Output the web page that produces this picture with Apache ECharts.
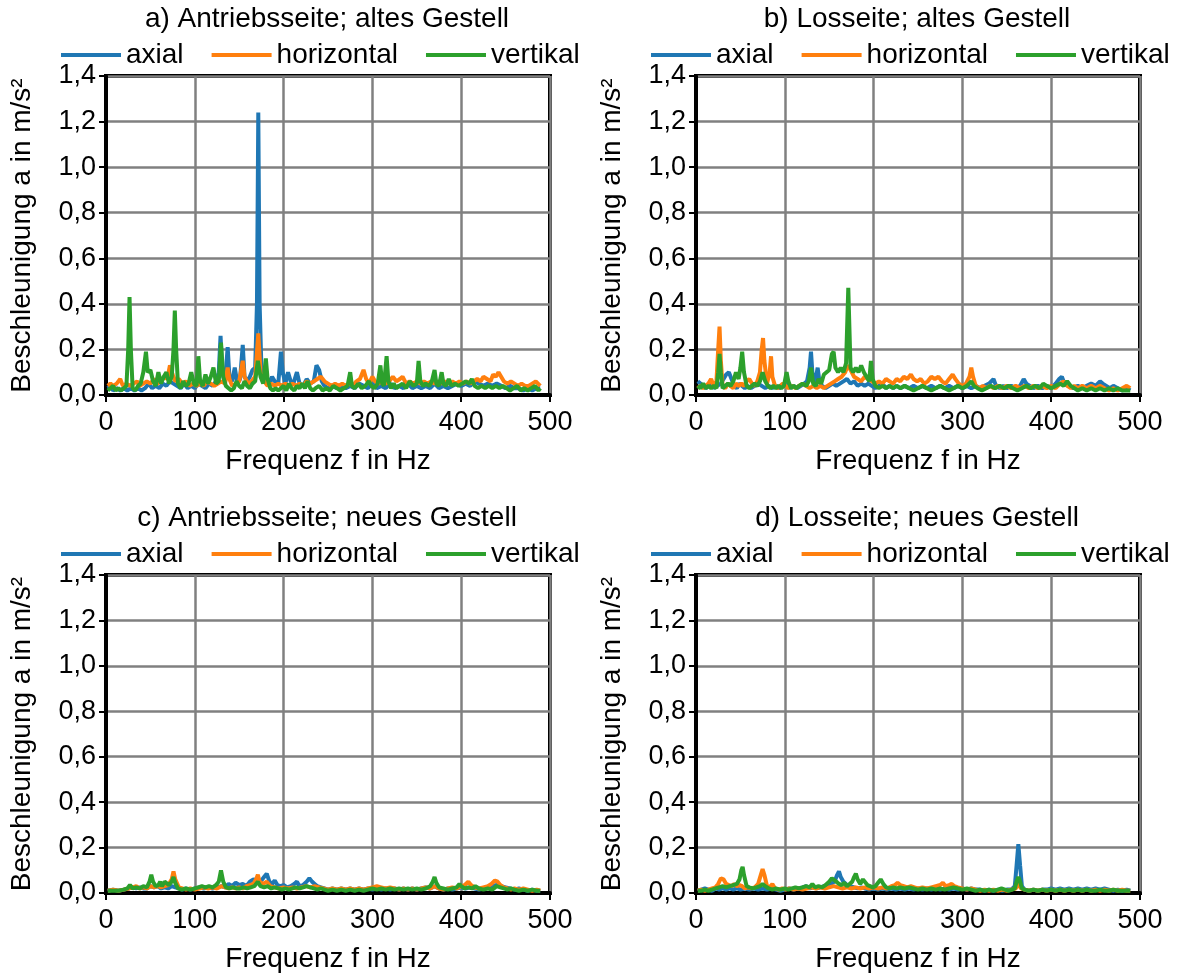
<!DOCTYPE html>
<html><head><meta charset="utf-8">
<script src="https://cdn.jsdelivr.net/npm/echarts@6/dist/echarts.min.js"></script>
<style>html,body{margin:0;padding:0;background:#fff}#c{width:1190px;height:974px}</style>
</head><body><div id="c"></div>
<script>
const panelTitles = ['a) Antriebsseite; altes Gestell','b) Losseite; altes Gestell','c) Antriebsseite; neues Gestell','d) Losseite; neues Gestell'];
const seriesNames = ['axial','horizontal','vertikal'];
const xTicks = [0,100,200,300,400,500];
const yTicks = [0,0.2,0.4,0.6,0.8,1.0,1.2,1.4];
const xName = 'Frequenz f in Hz';
const yName = 'Beschleunigung a in m/s²';

// a) Antriebsseite; altes Gestell  [Frequenz Hz, Beschleunigung m/s²]
const aAxial = [[2,0.03],[5,0.04],[8,0.02],[12,0.03],[16,0.02],[20,0.03],[24,0.02],[28,0.03],[32,0.02],[36,0.03],[40,0.02],[44,0.03],[48,0.05],[52,0.03],[56,0.04],[60,0.03],[64,0.05],[68,0.04],[72,0.06],[76,0.05],[80,0.04],[84,0.03],[88,0.05],[92,0.03],[96,0.04],[100,0.03],[104,0.05],[108,0.04],[112,0.03],[116,0.05],[120,0.04],[124,0.06],[127,0.1],[129,0.26],[131,0.1],[134,0.05],[137,0.21],[139,0.08],[142,0.06],[145,0.12],[148,0.05],[151,0.07],[154,0.22],[156,0.08],[159,0.06],[162,0.08],[165,0.11],[168,0.12],[170,0.4],[171.5,1.24],[173,0.4],[175,0.12],[178,0.06],[181,0.08],[184,0.05],[187,0.08],[190,0.06],[194,0.05],[197,0.19],[199,0.1],[202,0.05],[205,0.1],[208,0.06],[211,0.05],[215,0.1],[218,0.05],[222,0.04],[226,0.07],[230,0.05],[234,0.06],[237,0.13],[240,0.11],[243,0.06],[246,0.04],[250,0.03],[255,0.04],[260,0.03],[265,0.04],[270,0.03],[275,0.04],[280,0.03],[285,0.05],[290,0.04],[295,0.03],[300,0.05],[305,0.03],[310,0.04],[315,0.03],[320,0.05],[325,0.03],[330,0.04],[335,0.03],[340,0.05],[345,0.03],[350,0.04],[355,0.03],[360,0.04],[365,0.03],[370,0.05],[375,0.03],[380,0.04],[385,0.03],[390,0.04],[395,0.05],[400,0.04],[405,0.05],[410,0.04],[415,0.06],[420,0.05],[425,0.04],[430,0.05],[435,0.04],[440,0.05],[445,0.04],[450,0.03],[455,0.04],[460,0.03],[465,0.03],[470,0.02],[475,0.03],[480,0.02],[485,0.03],[489,0.03]];
const aHoriz = [[2,0.04],[5,0.05],[8,0.04],[12,0.05],[16,0.07],[19,0.04],[23,0.05],[27,0.04],[31,0.05],[35,0.06],[38,0.04],[42,0.05],[46,0.06],[50,0.05],[54,0.07],[58,0.05],[62,0.06],[66,0.08],[69,0.07],[72,0.13],[75,0.09],[78,0.06],[82,0.07],[86,0.05],[90,0.06],[94,0.04],[98,0.05],[102,0.04],[106,0.05],[110,0.04],[114,0.06],[118,0.05],[122,0.04],[126,0.05],[130,0.06],[134,0.05],[137,0.12],[139,0.07],[142,0.04],[146,0.05],[150,0.06],[154,0.15],[156,0.08],[160,0.05],[164,0.06],[168,0.08],[171.5,0.27],[174,0.1],[178,0.06],[182,0.04],[186,0.05],[190,0.04],[194,0.05],[198,0.04],[202,0.05],[206,0.04],[210,0.05],[214,0.04],[218,0.05],[222,0.04],[226,0.06],[230,0.05],[234,0.06],[238,0.07],[242,0.08],[246,0.06],[250,0.05],[254,0.04],[258,0.05],[262,0.04],[266,0.05],[270,0.04],[274,0.05],[278,0.04],[282,0.06],[286,0.07],[290,0.11],[293,0.07],[296,0.05],[300,0.08],[303,0.06],[307,0.05],[311,0.06],[315,0.05],[319,0.06],[323,0.08],[327,0.06],[331,0.07],[334,0.08],[338,0.05],[342,0.06],[346,0.05],[350,0.06],[354,0.05],[358,0.06],[362,0.05],[366,0.06],[370,0.05],[374,0.06],[378,0.05],[382,0.06],[386,0.05],[390,0.06],[394,0.05],[398,0.06],[402,0.05],[406,0.06],[410,0.05],[414,0.06],[418,0.07],[422,0.06],[425,0.08],[429,0.07],[433,0.06],[436,0.09],[439,0.08],[442,0.1],[445,0.08],[448,0.06],[452,0.05],[456,0.06],[460,0.05],[464,0.04],[468,0.05],[472,0.04],[476,0.04],[480,0.05],[484,0.06],[489,0.04]];
const aVert = [[2,0.02],[5,0.03],[8,0.04],[11,0.02],[14,0.03],[17,0.02],[20,0.03],[23,0.04],[25,0.2],[26.5,0.43],[28,0.2],[30,0.03],[33,0.02],[36,0.04],[39,0.05],[42,0.1],[45,0.19],[47,0.1],[50,0.11],[53,0.06],[56,0.04],[59,0.1],[62,0.05],[65,0.08],[68,0.1],[71,0.05],[74,0.08],[76,0.2],[77.5,0.37],[79,0.2],[81,0.05],[84,0.03],[87,0.06],[90,0.04],[93,0.05],[96,0.1],[99,0.05],[102,0.04],[104,0.17],[106,0.06],[109,0.04],[112,0.09],[115,0.05],[118,0.08],[121,0.12],[124,0.05],[127,0.06],[129.5,0.23],[132,0.08],[135,0.04],[138,0.03],[141,0.02],[144,0.03],[147,0.06],[150,0.04],[153,0.03],[156,0.06],[159,0.04],[162,0.03],[165,0.05],[168,0.06],[171,0.15],[174,0.08],[177,0.05],[180,0.16],[182,0.07],[185,0.03],[188,0.02],[191,0.03],[194,0.02],[197,0.03],[200,0.04],[203,0.02],[206,0.05],[209,0.03],[212,0.02],[215,0.04],[218,0.03],[221,0.05],[224,0.03],[227,0.06],[230,0.03],[233,0.02],[236,0.03],[240,0.04],[244,0.02],[248,0.03],[252,0.02],[256,0.04],[260,0.03],[264,0.02],[268,0.03],[272,0.04],[275,0.1],[277,0.04],[280,0.03],[284,0.05],[288,0.03],[292,0.04],[296,0.06],[299,0.04],[302,0.03],[306,0.05],[309,0.13],[311,0.05],[313,0.04],[316,0.17],[318,0.06],[321,0.03],[324,0.05],[327,0.03],[330,0.04],[334,0.05],[338,0.03],[342,0.06],[346,0.04],[350,0.05],[352,0.15],[354,0.06],[357,0.04],[360,0.05],[364,0.04],[367,0.06],[370,0.11],[372,0.05],[375,0.04],[378,0.1],[380,0.05],[383,0.04],[386,0.07],[389,0.04],[393,0.05],[397,0.04],[401,0.05],[405,0.06],[409,0.05],[412,0.07],[415,0.04],[419,0.03],[423,0.04],[427,0.03],[431,0.04],[435,0.03],[439,0.04],[443,0.03],[447,0.04],[451,0.03],[455,0.02],[459,0.03],[463,0.04],[467,0.02],[471,0.03],[475,0.02],[479,0.03],[483,0.04],[487,0.02],[489,0.03]];

// b) Losseite; altes Gestell
const bAxial = [[2,0.06],[5,0.05],[8,0.04],[11,0.03],[14,0.04],[17,0.05],[20,0.03],[24,0.04],[28,0.05],[31,0.07],[34,0.09],[37,0.1],[40,0.07],[43,0.04],[46,0.03],[49,0.05],[52,0.04],[55,0.03],[58,0.04],[62,0.03],[66,0.04],[70,0.05],[74,0.04],[78,0.03],[82,0.04],[86,0.03],[90,0.04],[94,0.03],[98,0.04],[102,0.05],[106,0.03],[110,0.04],[114,0.03],[118,0.04],[122,0.05],[125,0.06],[128,0.12],[129.5,0.19],[131,0.1],[134,0.05],[137,0.12],[139,0.06],[142,0.04],[146,0.03],[150,0.04],[154,0.05],[158,0.04],[162,0.05],[166,0.06],[170,0.07],[174,0.05],[178,0.06],[182,0.04],[186,0.05],[190,0.04],[194,0.05],[198,0.04],[202,0.03],[206,0.04],[210,0.05],[214,0.03],[218,0.04],[222,0.03],[226,0.04],[230,0.03],[235,0.04],[240,0.03],[245,0.04],[250,0.03],[255,0.04],[260,0.03],[265,0.04],[270,0.03],[275,0.04],[280,0.03],[285,0.04],[290,0.03],[295,0.04],[300,0.03],[305,0.04],[310,0.03],[315,0.04],[320,0.03],[325,0.04],[330,0.05],[335,0.07],[338,0.04],[342,0.03],[346,0.04],[350,0.03],[355,0.04],[360,0.03],[365,0.04],[369,0.07],[372,0.05],[376,0.04],[380,0.03],[385,0.04],[390,0.03],[395,0.04],[400,0.03],[405,0.05],[409,0.07],[412,0.08],[415,0.05],[420,0.04],[425,0.03],[430,0.04],[435,0.03],[440,0.04],[445,0.05],[450,0.04],[455,0.06],[458,0.05],[462,0.04],[466,0.03],[470,0.04],[475,0.03],[480,0.02],[485,0.03],[489,0.02]];
const bHoriz = [[2,0.03],[5,0.04],[8,0.03],[11,0.04],[14,0.05],[17,0.07],[20,0.04],[23,0.06],[25,0.2],[26.5,0.3],[28,0.15],[30,0.04],[33,0.03],[36,0.05],[39,0.04],[42,0.03],[45,0.05],[48,0.04],[51,0.05],[54,0.04],[57,0.06],[60,0.07],[63,0.05],[66,0.04],[69,0.06],[72,0.1],[74,0.2],[75.5,0.25],[77,0.15],[80,0.05],[83,0.1],[84.5,0.17],[86,0.08],[89,0.04],[92,0.03],[95,0.04],[98,0.05],[101,0.04],[104,0.03],[108,0.04],[112,0.03],[116,0.04],[120,0.05],[124,0.04],[128,0.03],[132,0.04],[136,0.03],[140,0.04],[144,0.03],[148,0.04],[152,0.05],[156,0.06],[160,0.07],[164,0.08],[168,0.1],[171,0.13],[174,0.11],[178,0.08],[182,0.07],[186,0.06],[190,0.08],[194,0.07],[198,0.06],[202,0.05],[206,0.06],[210,0.05],[214,0.07],[218,0.06],[222,0.05],[226,0.07],[230,0.06],[234,0.08],[238,0.07],[242,0.09],[245,0.07],[249,0.06],[253,0.07],[257,0.05],[261,0.06],[265,0.08],[269,0.07],[273,0.08],[277,0.06],[281,0.05],[285,0.07],[289,0.09],[292,0.07],[296,0.05],[300,0.04],[304,0.05],[308,0.08],[310,0.12],[312,0.08],[315,0.04],[319,0.03],[323,0.04],[327,0.03],[331,0.04],[335,0.03],[340,0.04],[345,0.03],[350,0.04],[355,0.03],[360,0.04],[365,0.03],[370,0.04],[375,0.03],[380,0.04],[385,0.03],[390,0.04],[395,0.03],[400,0.04],[405,0.03],[410,0.05],[414,0.06],[418,0.04],[422,0.03],[426,0.04],[430,0.03],[435,0.04],[440,0.03],[445,0.04],[450,0.03],[455,0.04],[460,0.03],[465,0.02],[470,0.03],[475,0.02],[480,0.03],[485,0.04],[489,0.03]];
const bVert = [[2,0.04],[5,0.03],[8,0.05],[11,0.03],[14,0.04],[17,0.03],[20,0.04],[23,0.03],[25,0.1],[26.5,0.18],[28,0.1],[30,0.03],[33,0.04],[36,0.05],[39,0.04],[42,0.06],[45,0.1],[48,0.07],[50,0.12],[52,0.19],[54,0.1],[57,0.04],[60,0.03],[63,0.04],[66,0.05],[69,0.04],[72,0.06],[75,0.1],[78,0.06],[81,0.04],[84,0.03],[87,0.04],[90,0.03],[93,0.04],[96,0.03],[99,0.04],[102,0.1],[104,0.06],[107,0.03],[110,0.04],[113,0.03],[116,0.04],[120,0.05],[124,0.04],[127,0.06],[129.5,0.12],[132,0.05],[135,0.04],[138,0.07],[141,0.05],[144,0.09],[147,0.1],[150,0.11],[153,0.18],[155,0.19],[157,0.12],[160,0.1],[163,0.12],[166,0.1],[169,0.14],[171.5,0.47],[174,0.12],[177,0.1],[180,0.12],[183,0.1],[186,0.13],[189,0.1],[192,0.08],[195,0.06],[197,0.15],[199,0.07],[202,0.04],[206,0.03],[210,0.04],[214,0.03],[218,0.04],[222,0.03],[226,0.04],[230,0.03],[235,0.04],[240,0.03],[245,0.02],[250,0.03],[255,0.04],[260,0.03],[265,0.02],[270,0.03],[275,0.04],[280,0.03],[285,0.02],[290,0.03],[295,0.04],[300,0.03],[305,0.04],[310,0.06],[313,0.04],[317,0.03],[322,0.02],[327,0.03],[332,0.04],[337,0.03],[342,0.04],[347,0.03],[352,0.04],[357,0.03],[362,0.02],[367,0.03],[372,0.04],[377,0.03],[382,0.04],[387,0.03],[391,0.05],[395,0.04],[400,0.03],[405,0.04],[410,0.05],[414,0.04],[418,0.06],[422,0.04],[426,0.03],[430,0.02],[435,0.03],[440,0.02],[445,0.03],[450,0.02],[455,0.03],[460,0.02],[465,0.03],[470,0.02],[475,0.03],[480,0.02],[485,0.02],[489,0.02]];

// c) Antriebsseite; neues Gestell
const cAxial = [[2,0.01],[8,0.015],[14,0.01],[20,0.015],[26,0.02],[30,0.025],[34,0.02],[38,0.025],[42,0.02],[46,0.02],[50,0.03],[54,0.025],[58,0.03],[62,0.02],[66,0.025],[70,0.02],[74,0.03],[78,0.025],[82,0.02],[86,0.015],[90,0.02],[95,0.015],[100,0.02],[105,0.025],[110,0.02],[115,0.025],[120,0.02],[125,0.025],[130,0.03],[134,0.025],[138,0.04],[142,0.03],[146,0.045],[150,0.035],[154,0.04],[158,0.03],[162,0.05],[166,0.06],[170,0.055],[174,0.05],[178,0.07],[181,0.085],[184,0.05],[187,0.04],[190,0.055],[193,0.035],[196,0.03],[200,0.035],[204,0.025],[208,0.03],[212,0.04],[215,0.05],[218,0.03],[222,0.035],[226,0.05],[229,0.065],[232,0.05],[235,0.04],[238,0.03],[242,0.025],[246,0.02],[250,0.015],[255,0.02],[260,0.015],[265,0.02],[270,0.015],[275,0.02],[280,0.015],[285,0.02],[290,0.015],[295,0.02],[300,0.015],[305,0.02],[310,0.015],[315,0.02],[320,0.015],[325,0.02],[330,0.015],[335,0.02],[340,0.015],[345,0.02],[350,0.015],[355,0.02],[360,0.025],[365,0.02],[370,0.03],[375,0.02],[380,0.015],[385,0.02],[390,0.015],[395,0.02],[400,0.025],[405,0.02],[410,0.025],[415,0.02],[420,0.015],[425,0.02],[430,0.025],[435,0.03],[440,0.035],[445,0.03],[450,0.025],[455,0.02],[460,0.015],[465,0.02],[470,0.015],[475,0.01],[480,0.015],[485,0.01],[489,0.01]];
const cHoriz = [[2,0.01],[8,0.015],[14,0.01],[20,0.015],[26,0.02],[30,0.025],[34,0.03],[38,0.02],[42,0.025],[46,0.02],[50,0.03],[54,0.025],[58,0.03],[62,0.025],[66,0.03],[70,0.035],[74,0.06],[76,0.095],[78,0.06],[82,0.025],[86,0.02],[90,0.015],[95,0.02],[100,0.015],[105,0.02],[110,0.025],[115,0.02],[120,0.025],[125,0.02],[130,0.03],[134,0.025],[138,0.02],[142,0.025],[146,0.02],[150,0.025],[154,0.02],[158,0.03],[162,0.035],[166,0.04],[169,0.06],[171,0.08],[173,0.05],[177,0.04],[181,0.05],[185,0.03],[190,0.025],[195,0.02],[200,0.025],[205,0.02],[210,0.025],[215,0.02],[220,0.025],[225,0.03],[230,0.025],[235,0.03],[240,0.025],[245,0.02],[250,0.015],[255,0.02],[260,0.015],[265,0.02],[270,0.015],[275,0.02],[280,0.015],[285,0.02],[290,0.015],[295,0.02],[300,0.025],[305,0.03],[310,0.025],[315,0.02],[320,0.025],[325,0.02],[330,0.015],[335,0.02],[340,0.015],[345,0.02],[350,0.015],[355,0.02],[360,0.025],[365,0.02],[370,0.03],[375,0.02],[380,0.015],[385,0.02],[390,0.025],[395,0.02],[400,0.03],[404,0.035],[408,0.05],[411,0.035],[415,0.025],[420,0.02],[425,0.025],[430,0.03],[434,0.04],[438,0.055],[441,0.05],[444,0.035],[448,0.025],[452,0.02],[456,0.015],[460,0.02],[465,0.015],[470,0.02],[475,0.015],[480,0.01],[485,0.015],[489,0.01]];
const cVert = [[2,0.01],[8,0.01],[14,0.01],[20,0.015],[24,0.02],[27,0.035],[30,0.02],[34,0.025],[38,0.02],[42,0.03],[46,0.025],[49,0.05],[51,0.08],[53,0.05],[56,0.03],[59,0.035],[61,0.05],[63,0.03],[66,0.05],[68,0.045],[71,0.035],[74,0.05],[76,0.07],[78,0.045],[81,0.02],[85,0.015],[90,0.02],[95,0.015],[100,0.02],[104,0.025],[108,0.03],[112,0.025],[116,0.03],[120,0.025],[124,0.035],[127,0.05],[129.5,0.1],[132,0.05],[135,0.025],[139,0.02],[143,0.025],[147,0.02],[151,0.02],[155,0.025],[159,0.02],[163,0.025],[167,0.03],[171,0.05],[174,0.03],[178,0.025],[182,0.03],[186,0.02],[190,0.025],[194,0.02],[198,0.015],[202,0.02],[206,0.015],[210,0.02],[214,0.025],[218,0.02],[222,0.025],[226,0.03],[230,0.025],[234,0.02],[238,0.015],[242,0.02],[246,0.015],[250,0.01],[255,0.015],[260,0.01],[265,0.015],[270,0.01],[275,0.015],[280,0.01],[285,0.015],[290,0.01],[295,0.015],[300,0.02],[305,0.015],[310,0.02],[315,0.015],[320,0.02],[325,0.015],[330,0.02],[335,0.015],[340,0.02],[345,0.015],[350,0.02],[355,0.015],[360,0.02],[365,0.03],[368,0.05],[370,0.07],[372,0.045],[375,0.025],[380,0.02],[385,0.015],[390,0.02],[395,0.025],[398,0.04],[400,0.03],[404,0.02],[408,0.025],[412,0.02],[416,0.03],[420,0.02],[425,0.015],[430,0.02],[435,0.015],[440,0.03],[444,0.025],[448,0.02],[452,0.015],[456,0.02],[460,0.015],[465,0.01],[470,0.015],[475,0.01],[480,0.015],[485,0.01],[489,0.01]];

// d) Losseite; neues Gestell
const dAxial = [[2,0.01],[6,0.015],[10,0.02],[14,0.015],[18,0.01],[22,0.02],[26,0.015],[30,0.02],[34,0.015],[38,0.02],[42,0.015],[46,0.02],[50,0.015],[55,0.02],[60,0.015],[65,0.02],[70,0.015],[75,0.02],[80,0.015],[85,0.02],[90,0.015],[95,0.01],[100,0.015],[105,0.02],[110,0.015],[115,0.02],[120,0.025],[124,0.03],[128,0.02],[132,0.025],[136,0.02],[140,0.025],[144,0.03],[148,0.035],[152,0.04],[156,0.05],[159,0.08],[161,0.095],[163,0.07],[166,0.05],[170,0.035],[174,0.03],[178,0.025],[182,0.02],[186,0.025],[190,0.02],[195,0.015],[200,0.02],[205,0.015],[210,0.02],[215,0.015],[220,0.02],[225,0.015],[230,0.02],[235,0.015],[240,0.02],[245,0.015],[250,0.02],[255,0.015],[260,0.02],[265,0.015],[270,0.02],[275,0.015],[280,0.02],[285,0.015],[290,0.02],[295,0.015],[300,0.02],[305,0.015],[310,0.02],[315,0.015],[320,0.015],[325,0.01],[330,0.015],[335,0.01],[340,0.015],[345,0.01],[350,0.015],[355,0.015],[359,0.03],[361,0.12],[363,0.215],[365,0.12],[367,0.03],[370,0.015],[375,0.01],[380,0.015],[385,0.01],[390,0.015],[395,0.015],[400,0.02],[405,0.015],[410,0.02],[415,0.015],[420,0.02],[425,0.015],[430,0.02],[435,0.015],[440,0.02],[445,0.015],[450,0.02],[455,0.015],[460,0.02],[465,0.015],[470,0.01],[475,0.015],[480,0.01],[485,0.015],[489,0.01]];
const dHoriz = [[2,0.01],[6,0.015],[10,0.01],[14,0.015],[18,0.02],[22,0.025],[25,0.04],[28,0.065],[31,0.06],[34,0.04],[37,0.035],[40,0.03],[43,0.04],[46,0.03],[49,0.035],[52,0.03],[55,0.02],[58,0.025],[62,0.02],[66,0.025],[70,0.04],[73,0.08],[75,0.105],[77,0.08],[80,0.03],[83,0.025],[86,0.04],[89,0.02],[93,0.015],[97,0.02],[101,0.015],[105,0.02],[110,0.015],[115,0.02],[120,0.015],[125,0.02],[130,0.025],[135,0.02],[140,0.025],[145,0.02],[150,0.025],[155,0.03],[160,0.025],[165,0.02],[170,0.025],[175,0.02],[180,0.025],[185,0.02],[190,0.025],[195,0.02],[200,0.025],[205,0.02],[210,0.025],[215,0.02],[220,0.03],[224,0.035],[227,0.045],[230,0.035],[234,0.03],[238,0.025],[242,0.03],[246,0.025],[250,0.02],[255,0.025],[260,0.02],[265,0.025],[270,0.03],[275,0.035],[278,0.045],[281,0.03],[285,0.035],[288,0.04],[291,0.03],[295,0.025],[300,0.02],[305,0.015],[310,0.02],[315,0.015],[320,0.01],[325,0.015],[330,0.01],[335,0.015],[340,0.01],[345,0.015],[350,0.01],[355,0.015],[360,0.02],[363,0.04],[366,0.02],[370,0.015],[375,0.01],[380,0.015],[385,0.01],[390,0.015],[395,0.01],[400,0.015],[405,0.01],[410,0.015],[415,0.01],[420,0.015],[425,0.01],[430,0.015],[435,0.01],[440,0.015],[445,0.01],[450,0.015],[455,0.01],[460,0.015],[465,0.01],[470,0.015],[475,0.01],[480,0.015],[485,0.01],[489,0.01]];
const dVert = [[2,0.01],[6,0.01],[10,0.015],[14,0.01],[18,0.015],[22,0.02],[26,0.025],[30,0.03],[34,0.025],[38,0.03],[42,0.035],[46,0.04],[49,0.06],[51,0.1],[52.5,0.115],[54,0.08],[57,0.03],[60,0.025],[64,0.02],[68,0.025],[72,0.03],[75,0.04],[78,0.03],[82,0.02],[86,0.015],[90,0.02],[95,0.015],[100,0.02],[104,0.015],[108,0.02],[112,0.025],[116,0.02],[120,0.025],[124,0.03],[128,0.025],[131,0.04],[134,0.025],[138,0.03],[142,0.025],[146,0.035],[150,0.05],[153,0.065],[155,0.07],[158,0.05],[161,0.04],[164,0.035],[167,0.045],[170,0.03],[173,0.04],[176,0.05],[178,0.07],[180,0.085],[182,0.06],[185,0.04],[188,0.06],[190,0.055],[193,0.035],[196,0.03],[199,0.025],[202,0.03],[205,0.045],[208,0.06],[211,0.04],[214,0.025],[218,0.02],[222,0.025],[226,0.02],[230,0.025],[235,0.02],[240,0.025],[245,0.02],[250,0.015],[255,0.02],[260,0.015],[265,0.02],[270,0.015],[275,0.02],[280,0.015],[285,0.02],[290,0.025],[295,0.02],[300,0.015],[305,0.02],[310,0.015],[315,0.01],[320,0.015],[325,0.01],[330,0.015],[335,0.01],[340,0.015],[344,0.02],[348,0.015],[352,0.01],[356,0.015],[359,0.02],[361,0.05],[363,0.07],[365,0.05],[367,0.02],[370,0.015],[375,0.01],[380,0.015],[385,0.01],[390,0.015],[395,0.01],[400,0.015],[405,0.01],[410,0.015],[415,0.01],[420,0.015],[425,0.01],[430,0.015],[435,0.01],[440,0.015],[445,0.01],[450,0.01],[455,0.015],[460,0.01],[465,0.01],[470,0.015],[475,0.01],[480,0.01],[485,0.01],[489,0.01]];

const panelData = [[aAxial,aHoriz,aVert],[bAxial,bHoriz,bVert],[cAxial,cHoriz,cVert],[dAxial,dHoriz,dVert]];
const colors = ['#1f77b4','#ff7f0e','#2ca02c'];

const FONT = 'Liberation Sans, Arial, sans-serif';
const FS = 27;
const FN = 28;
const grids = [
  {left:106, top:76, width:444, height:319},
  {left:696, top:76, width:444, height:319},
  {left:106, top:575, width:444, height:318},
  {left:696, top:575, width:444, height:318}
];

const option = {
  animation:false,
  backgroundColor:'#fff',
  color: colors,
  textStyle:{fontFamily:FONT,color:'#000'},
  title: grids.map((g,i)=>({text:panelTitles[i], left:g.left+g.width/2-6, top:g.top-76, textAlign:'center',
    textStyle:{fontFamily:FONT,fontSize:FN,fontWeight:'normal',color:'#000'}})),
  legend: grids.map((g,i)=>({data:seriesNames, left:g.left-50, top:g.top-76+36, icon:'rect', itemWidth:60, itemHeight:4, itemGap:28,
    textStyle:{fontFamily:FONT,fontSize:FN,color:'#000'}, selectedMode:false})),
  grid: grids.map(g=>Object.assign({show:true, borderColor:'#000', borderWidth:4, backgroundColor:'#fff'}, g)),
  xAxis: grids.map((g,i)=>({type:'value', gridIndex:i, min:xTicks[0], max:xTicks[xTicks.length-1], interval:100,
    name:xName, nameLocation:'middle', nameGap:52, nameMoveOverlap:false, nameTextStyle:{fontFamily:FONT,fontSize:FN,color:'#000'},
    axisLine:{show:true,onZero:false,lineStyle:{color:'#000',width:4}},
    axisTick:{show:true,inside:false,length:7,lineStyle:{color:'#000',width:2}},
    axisLabel:{fontFamily:FONT,fontSize:FS,color:'#000',margin:14},
    splitLine:{show:true,lineStyle:{color:'#808080',width:2.5}}})),
  yAxis: grids.map((g,i)=>({type:'value', gridIndex:i, min:yTicks[0], max:yTicks[yTicks.length-1], interval:0.2,
    name:yName, nameLocation:'middle', nameGap:70, nameMoveOverlap:false, nameTextStyle:{fontFamily:FONT,fontSize:FN,color:'#000'},
    axisLine:{show:true,lineStyle:{color:'#000',width:4}},
    axisTick:{show:true,inside:false,length:7,lineStyle:{color:'#000',width:2}},
    axisLabel:{fontFamily:FONT,fontSize:FS,color:'#000',margin:10,formatter:v=>v.toFixed(1).replace('.',',')},
    splitLine:{show:true,lineStyle:{color:'#808080',width:2.5}}})),
  series: []
};
panelData.forEach((arr,p)=>{
  arr.forEach((d,k)=>{
    option.series.push({type:'line', name:seriesNames[k], xAxisIndex:p, yAxisIndex:p, data:d, showSymbol:false, symbol:'none',
      lineStyle:{width:4,color:colors[k]}, itemStyle:{color:colors[k]}, z:3+k, clip:true});
  });
});
const chart = echarts.init(document.getElementById('c'),null,{renderer:'canvas'});
chart.setOption(option);
</script></body></html>
